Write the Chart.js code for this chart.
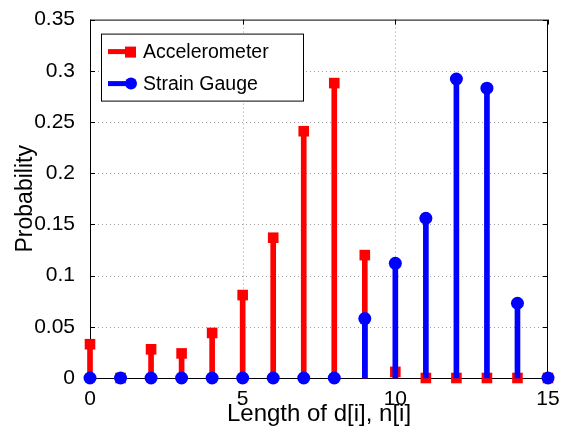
<!DOCTYPE html>
<html>
<head>
<meta charset="utf-8">
<script src="https://cdn.jsdelivr.net/npm/chart.js@4/dist/chart.umd.min.js"></script>
<style>
  html, body { margin: 0; padding: 0; background: #fff; }
  #wrap { width: 566px; height: 429px; }
</style>
</head>
<body>
<div id="wrap"><canvas id="stemChart"></canvas></div>
<script>
const lengths = [0, 1, 2, 3, 4, 5, 6, 7, 8, 9, 10, 11, 12, 13, 14, 15]
const accelerometer = [0.033, 0, 0.028, 0.024, 0.044, 0.081, 0.137, 0.241, 0.288, 0.12, 0.006, 0, 0, 0, 0, 0]
const strainGauge = [0, 0, 0, 0, 0, 0, 0, 0, 0, 0.058, 0.112, 0.156, 0.292, 0.283, 0.073, 0]
const xTicks = [0, 5, 10, 15]
const yTicks = [0, 0.05, 0.1, 0.15, 0.2, 0.25, 0.3, 0.35]

const FONT = 'Liberation Sans, Arial, sans-serif'

const toPoints = vals => lengths.map((x, i) => ({ x: x, y: vals[i] }))

// dotted grid, box, inside ticks, legend (matlab look)
const matlabAxes = {
  id: 'matlabAxes',
  beforeDatasetsDraw(chart) {
    const { ctx, chartArea: a, scales } = chart
    ctx.save()
    ctx.strokeStyle = '#a0a0a0'
    ctx.lineWidth = 1
    ctx.setLineDash([1, 3])
    ctx.beginPath()
    xTicks.slice(1, -1).forEach(v => {
      const px = Math.round(scales.x.getPixelForValue(v)) + 0.5
      ctx.moveTo(px, a.top); ctx.lineTo(px, a.bottom)
    })
    yTicks.slice(1, -1).forEach(v => {
      const py = Math.round(scales.y.getPixelForValue(v)) + 0.5
      ctx.moveTo(a.left, py); ctx.lineTo(a.right, py)
    })
    ctx.stroke()
    ctx.setLineDash([])
    ctx.strokeStyle = '#000'
    ctx.strokeRect(a.left + 0.5, a.top + 0.5, a.right - a.left - 1, a.bottom - a.top)
    ctx.beginPath()
    xTicks.forEach(v => {
      const px = Math.round(scales.x.getPixelForValue(v)) + 0.5
      ctx.moveTo(px, a.bottom); ctx.lineTo(px, a.bottom - 5)
      ctx.moveTo(px, a.top); ctx.lineTo(px, a.top + 5)
    })
    yTicks.forEach(v => {
      const py = Math.round(scales.y.getPixelForValue(v)) + 0.5
      ctx.moveTo(a.left, py); ctx.lineTo(a.left + 5, py)
      ctx.moveTo(a.right, py); ctx.lineTo(a.right - 5, py)
    })
    ctx.stroke()
    ctx.restore()
  },
  afterDraw(chart) {
    const { ctx, chartArea: a } = chart
    const bx = a.left + 11, by = a.top + 14, bw = 202, bh = 67
    ctx.save()
    ctx.fillStyle = '#fff'
    ctx.fillRect(bx, by, bw, bh)
    ctx.strokeStyle = '#000'
    ctx.lineWidth = 1
    ctx.strokeRect(bx + 0.5, by + 0.5, bw, bh)
    const rows = [
      { label: 'Accelerometer', color: '#ff0000', shape: 'square', y: by + 18 },
      { label: 'Strain Gauge', color: '#0000ff', shape: 'circle', y: by + 50 }
    ]
    rows.forEach(r => {
      ctx.strokeStyle = r.color
      ctx.fillStyle = r.color
      ctx.lineWidth = 5
      ctx.beginPath()
      ctx.moveTo(bx + 7, r.y); ctx.lineTo(bx + 30, r.y)
      ctx.stroke()
      if (r.shape === 'square') {
        ctx.fillRect(bx + 24, r.y - 5, 11, 11)
      } else {
        ctx.beginPath(); ctx.arc(bx + 30, r.y, 6, 0, Math.PI * 2); ctx.fill()
      }
      ctx.fillStyle = '#000'
      ctx.font = '19.5px ' + FONT
      ctx.textBaseline = 'middle'
      ctx.fillText(r.label, bx + 42, r.y + 1)
    })
    ctx.restore()
  }
}

new Chart(
  document.getElementById('stemChart'),
  {
    type: 'bar',
    data: {
      datasets: [
        {
          type: 'scatter',
          label: 'Strain Gauge marker',
          data: toPoints(strainGauge),
          backgroundColor: '#0000ff',
          borderWidth: 0,
          pointStyle: 'circle',
          pointRadius: 6.5,
          clip: false,
          order: 1
        },
        {
          label: 'Strain Gauge',
          data: toPoints(strainGauge),
          backgroundColor: '#0000ff',
          barThickness: 5,
          grouped: false,
          clip: false,
          order: 2
        },
        {
          type: 'scatter',
          label: 'Accelerometer marker',
          data: toPoints(accelerometer),
          backgroundColor: '#ff0000',
          borderWidth: 0,
          pointStyle: 'rect',
          pointRadius: 7.5,
          clip: false,
          order: 3
        },
        {
          label: 'Accelerometer',
          data: toPoints(accelerometer),
          backgroundColor: '#ff0000',
          barThickness: 5,
          grouped: false,
          clip: false,
          order: 4
        }
      ]
    },
    options: {
      responsive: true,
      maintainAspectRatio: false,
      animation: false,
      layout: { padding: { top: 15, right: 18, left: 0, bottom: 0 } },
      plugins: {
        legend: { display: false },
        tooltip: { enabled: false }
      },
      scales: {
        x: {
          type: 'linear',
          min: 0,
          max: 15,
          offset: false,
          afterFit: s => { s.height = 51 },
          afterBuildTicks: s => { s.ticks = xTicks.map(v => ({ value: v })) },
          grid: { display: false },
          border: { display: false },
          ticks: { color: '#000', font: { family: FONT, size: 21 }, padding: 1, maxRotation: 0 },
          title: { display: true, text: 'Length of d[i], n[i]', color: '#000', font: { family: FONT, size: 24 }, padding: { top: -8, bottom: 0 } }
        },
        y: {
          min: 0,
          max: 0.35,
          afterFit: s => { s.width = 90 },
          afterBuildTicks: s => { s.ticks = yTicks.map(v => ({ value: v })) },
          grid: { display: false },
          border: { display: false },
          ticks: { color: '#000', font: { family: FONT, size: 21 }, padding: 7, callback: v => String(+v.toFixed(2)) },
          title: { display: true, text: 'Probability', color: '#000', font: { family: FONT, size: 23 }, padding: { top: 12, bottom: 0 } }
        }
      }
    },
    plugins: [matlabAxes]
  }
)
</script>
</body>
</html>
